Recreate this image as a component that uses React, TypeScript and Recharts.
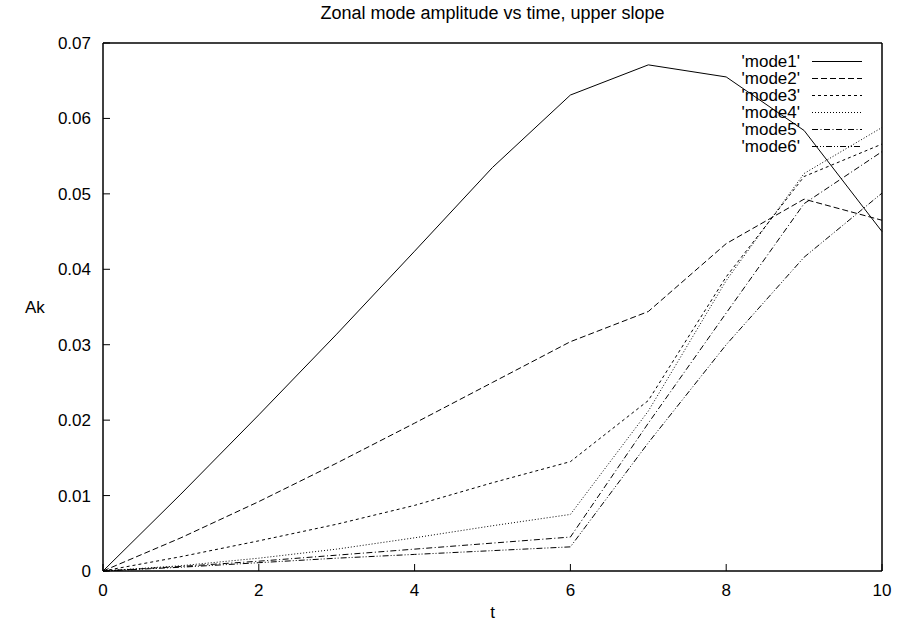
import React from 'react';
import { LineChart, Line, XAxis, YAxis, Legend, Label } from 'recharts';

const tValues = [0, 1, 2, 3, 4, 5, 6, 7, 8, 9, 10];
const mode1 = [0, 0.0102, 0.0207, 0.0314, 0.0424, 0.0535, 0.0631, 0.0671, 0.0655, 0.0584, 0.045];
const mode2 = [0, 0.0044, 0.0092, 0.0143, 0.0196, 0.025, 0.0304, 0.0344, 0.0434, 0.0493, 0.0465];
const mode3 = [0, 0.0019, 0.004, 0.0062, 0.0087, 0.0117, 0.0145, 0.0226, 0.039, 0.0523, 0.0566];
const mode4 = [0, 0.0007, 0.0017, 0.0029, 0.0044, 0.006, 0.0075, 0.0212, 0.0385, 0.0527, 0.0588];
const mode5 = [0, 0.0006, 0.0013, 0.0021, 0.0029, 0.0037, 0.0045, 0.0196, 0.0342, 0.0487, 0.0556];
const mode6 = [0, 0.0005, 0.0011, 0.0017, 0.0022, 0.0027, 0.0032, 0.017, 0.03, 0.0416, 0.0501];

const seriesKeys = ['mode1', 'mode2', 'mode3', 'mode4', 'mode5', 'mode6'];
const seriesNames = ["'mode1'", "'mode2'", "'mode3'", "'mode4'", "'mode5'", "'mode6'"];
const seriesValues = [mode1, mode2, mode3, mode4, mode5, mode6];

const xTicks = [0, 2, 4, 6, 8, 10];
const yTicks = [0, 0.01, 0.02, 0.03, 0.04, 0.05, 0.06, 0.07];
const yTickLabels = ['0', '0.01', '0.02', '0.03', '0.04', '0.05', '0.06', '0.07'];

const titleText = 'Zonal mode amplitude vs time, upper slope';
const xLabel = 't';
const yLabel = 'Ak';

const dashStyles = ['', '6 3', '3 3', '1 2', '6 2.5 1 2.5', '6 2 1 2 1 2'];

const data = tValues.map((t, i) => {
  const row: Record<string, number> = { t };
  seriesKeys.forEach((k, j) => {
    row[k] = seriesValues[j][i];
  });
  return row;
});

const FONT = '"Liberation Sans", Arial, Helvetica, sans-serif';
const FS = 17;

const LegendBox = () => (
  <div style={{ fontFamily: FONT, fontSize: FS, color: '#000' }}>
    {seriesNames.map((name, i) => (
      <div key={name} style={{ display: 'flex', alignItems: 'center', height: 17, lineHeight: '17px' }}>
        <span style={{ width: 100, textAlign: 'right', whiteSpace: 'nowrap' }}>{name}</span>
        <svg width={50} height={17} style={{ marginLeft: 12, display: 'block' }}>
          <line x1={0} y1={8.5} x2={50} y2={8.5} stroke="#000" strokeWidth={1} strokeDasharray={dashStyles[i] || undefined} />
        </svg>
      </div>
    ))}
  </div>
);

export default function App() {
  const axisLine = { stroke: '#000', strokeWidth: 1.5 };
  const tickLine = { stroke: '#000', strokeWidth: 1 };
  const tickStyle = { fill: '#000', fontSize: FS, fontFamily: FONT };
  return (
    <div style={{ position: 'absolute', left: 0, top: 0, width: 897, height: 627, background: '#fff' }}>
      <LineChart width={897} height={627} data={data} margin={{ top: 0, right: 0, bottom: 0, left: 0 }} style={{ fontFamily: FONT }}>
        <XAxis
          xAxisId="b"
          dataKey="t"
          type="number"
          domain={[0, 10]}
          ticks={xTicks}
          interval={0}
          height={56}
          tickSize={-7}
          tickMargin={20}
          axisLine={axisLine}
          tickLine={tickLine}
          tick={tickStyle}
        >
          <Label value={xLabel} position="insideBottom" offset={9} fill="#000" fontSize={FS} fontFamily={FONT} />
        </XAxis>
        <XAxis
          xAxisId="top"
          orientation="top"
          dataKey="t"
          type="number"
          domain={[0, 10]}
          ticks={xTicks}
          interval={0}
          height={43}
          tickSize={-7}
          axisLine={axisLine}
          tickLine={tickLine}
          tick={false}
        >
          <Label value={titleText} position="insideTop" offset={6} fill="#000" fontSize={18} fontFamily={FONT} />
        </XAxis>
        <YAxis
          yAxisId="l"
          type="number"
          domain={[0, 0.07]}
          ticks={yTicks}
          interval={0}
          width={103}
          tickSize={-7}
          tickMargin={19}
          axisLine={axisLine}
          tickLine={tickLine}
          tick={tickStyle}
          tickFormatter={(v: number, i: number) => yTickLabels[i] ?? String(v)}
        >
          <Label value={yLabel} position="insideLeft" offset={25} fill="#000" fontSize={FS} fontFamily={FONT} />
        </YAxis>
        <YAxis
          yAxisId="r"
          orientation="right"
          type="number"
          domain={[0, 0.07]}
          ticks={yTicks}
          interval={0}
          width={15}
          tickSize={-7}
          axisLine={axisLine}
          tickLine={tickLine}
          tick={false}
        />
        <Legend
          layout="vertical"
          align="center"
          verticalAlign="middle"
          wrapperStyle={{ left: 700, top: 53, width: 170 }}
          content={() => <LegendBox />}
        />
        {seriesKeys.map((k, i) => (
          <Line
            key={k}
            xAxisId="b"
            yAxisId="l"
            type="linear"
            dataKey={k}
            name={seriesNames[i]}
            stroke="#000"
            strokeWidth={1}
            strokeDasharray={dashStyles[i] || undefined}
            dot={false}
            activeDot={false}
            isAnimationActive={false}
          />
        ))}
      </LineChart>
    </div>
  );
}
